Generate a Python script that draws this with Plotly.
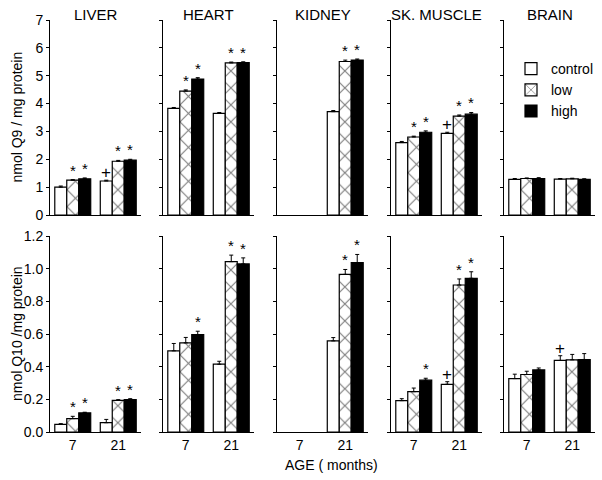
import plotly.graph_objects as go

tissues = ["LIVER", "HEART", "KIDNEY", "SK. MUSCLE", "BRAIN"]
ages = ["7", "21"]
groups = ["control", "low", "high"]

# Q9 (nmol / mg protein): per tissue [7 months, 21 months]
q9_control = [[1.00, 1.22], [3.83, 3.65], [None, 3.71], [2.60, 2.93], [1.28, 1.29]]
q9_low     = [[1.25, 1.93], [4.45, 5.46], [None, 5.51], [2.80, 3.55], [1.31, 1.30]]
q9_high    = [[1.30, 1.97], [4.88, 5.47], [None, 5.56], [2.97, 3.62], [1.31, 1.28]]
q9_err_control = [[0.04, 0.03], [0.03, 0.03], [None, 0.04], [0.04, 0.04], [0.03, 0.02]]
q9_err_low     = [[0.02, 0.03], [0.04, 0.03], [None, 0.05], [0.03, 0.04], [0.02, 0.02]]
q9_err_high    = [[0.03, 0.03], [0.05, 0.03], [None, 0.04], [0.05, 0.06], [0.03, 0.02]]
q9_marks_control = [["", "+"], ["", ""], ["", ""], ["", "+"], ["", ""]]
q9_marks_low     = [["*", "*"], ["*", "*"], ["", "*"], ["*", "*"], ["", ""]]
q9_marks_high    = [["*", "*"], ["*", "*"], ["", "*"], ["*", "*"], ["", ""]]

# Q10 (nmol / mg protein)
q10_control = [[0.047, 0.057], [0.497, 0.415], [None, 0.558], [0.192, 0.292], [0.327, 0.438]]
q10_low     = [[0.082, 0.194], [0.546, 1.043], [None, 0.965], [0.247, 0.900], [0.352, 0.442]]
q10_high    = [[0.117, 0.198], [0.597, 1.029], [None, 1.037], [0.317, 0.941], [0.380, 0.444]]
q10_err_control = [[0.004, 0.020], [0.045, 0.018], [None, 0.020], [0.012, 0.016], [0.027, 0.029]]
q10_err_low     = [[0.014, 0.004], [0.033, 0.040], [None, 0.030], [0.022, 0.037], [0.020, 0.033]]
q10_err_high    = [[0.004, 0.006], [0.020, 0.037], [None, 0.050], [0.012, 0.040], [0.012, 0.036]]
q10_marks_control = [["", ""], ["", ""], ["", ""], ["", "+"], ["", "+"]]
q10_marks_low     = [["*", "*"], ["", "*"], ["", "*"], ["", "*"], ["", ""]]
q10_marks_high    = [["*", "*"], ["*", "*"], ["", "*"], ["*", "*"], ["", ""]]

rows = [
    dict(vals=[q9_control, q9_low, q9_high], errs=[q9_err_control, q9_err_low, q9_err_high],
         marks=[q9_marks_control, q9_marks_low, q9_marks_high], rng=[0, 7], dtick=1, fmt="d",
         title="nmol Q9 / mg protein"),
    dict(vals=[q10_control, q10_low, q10_high], errs=[q10_err_control, q10_err_low, q10_err_high],
         marks=[q10_marks_control, q10_marks_low, q10_marks_high], rng=[0, 1.2], dtick=0.2, fmt=".1f",
         title="nmol Q10 /mg protein"),
]

W, H = 602, 480
FONT = "Arial, Liberation Sans, sans-serif"
panel_x = [(50, 141), (163, 254), (277, 368), (391, 482), (504, 595)]
row_y = [(20, 215), (236, 432)]

def px(x):
    return x / W

def py(y):
    return 1 - y / H

def bar_style(g):
    if g == 0:
        return dict(color="white", line=dict(color="black", width=1.2))
    if g == 1:
        return dict(color="white", line=dict(color="black", width=1.2),
                    pattern=dict(shape="x", fgcolor="black", bgcolor="white", size=12, solidity=0.18))
    return dict(color="black", line=dict(color="black", width=1.2))

fig = go.Figure()
annotations = []
layout = {}
for r, row in enumerate(rows):
    for p in range(5):
        n = r * 5 + p + 1
        xa = "x" if n == 1 else f"x{n}"
        ya = "y" if n == 1 else f"y{n}"
        for g in range(3):
            yv = row["vals"][g][p]
            ev = row["errs"][g][p]
            fig.add_trace(go.Bar(
                x=ages, y=yv, name=groups[g], legendgroup=groups[g], showlegend=(n == 1),
                marker=bar_style(g), xaxis=xa, yaxis=ya, offsetgroup=str(g),
                error_y=dict(type="data", array=ev, arrayminus=[0, 0], symmetric=False,
                             color="black", thickness=1, width=2),
                hoverinfo="x+y",
            ))
            for a in range(2):
                m = row["marks"][g][p][a]
                if m and yv[a] is not None:
                    annotations.append(dict(
                        x=a, y=yv[a] + ev[a], xref=xa, yref=ya, text=m, showarrow=False,
                        xanchor="center", xshift=(g - 1) * 12, yshift=-1 if m == "*" else -4,
                        yanchor="bottom",
                        font=dict(family=FONT, size=15 if m == "*" else 17, color="black")))
        x0, x1 = panel_x[p]
        y0, y1 = row_y[r]
        kx = "xaxis" if n == 1 else f"xaxis{n}"
        ky = "yaxis" if n == 1 else f"yaxis{n}"
        layout[kx] = dict(domain=[px(x0), px(x1)], anchor=ya, type="category",
                          categoryorder="array", categoryarray=ages, range=[-0.5, 1.5],
                          autorange=False, showline=True,
                          linecolor="black", linewidth=1, ticks="", showticklabels=(r == 1),
                          showgrid=False, zeroline=False,
                          tickfont=dict(family=FONT, size=14, color="black"), fixedrange=True)
        layout[ky] = dict(domain=[py(y1), py(y0)], anchor=xa, range=row["rng"],
                          autorange=False, tick0=0, dtick=row["dtick"], tickformat=row["fmt"],
                          ticks="outside", ticklen=3, tickcolor="black", showline=True,
                          linecolor="black", linewidth=1, showgrid=False, zeroline=False,
                          showticklabels=(p == 0), tickfont=dict(family=FONT, size=14, color="black"),
                          fixedrange=True)
        if r == 0:
            annotations.append(dict(x=px((x0 + x1) / 2), y=py(14), xref="paper", yref="paper",
                                    text=tissues[p], showarrow=False, xanchor="center",
                                    yanchor="middle",
                                    font=dict(family=FONT, size=15, color="black")))
    annotations.append(dict(x=px(17), y=py((row_y[r][0] + row_y[r][1]) / 2), xref="paper",
                            yref="paper", text=row["title"], textangle=-90, showarrow=False,
                            xanchor="center", yanchor="middle",
                            font=dict(family=FONT, size=14, color="black")))

annotations.append(dict(x=px(331), y=py(465), xref="paper", yref="paper", text="AGE ( months)",
                        showarrow=False, xanchor="center", yanchor="middle",
                        font=dict(family=FONT, size=14, color="black")))

fig.update_layout(
    width=W, height=H, margin=dict(l=0, r=0, t=0, b=0, autoexpand=False),
    paper_bgcolor="white", plot_bgcolor="white",
    barmode="group", bargap=0.21, bargroupgap=0,
    font=dict(family=FONT, size=14, color="black"),
    showlegend=True,
    legend=dict(x=px(511), y=py(53), xanchor="left", yanchor="top",
                bgcolor="rgba(0,0,0,0)", font=dict(family=FONT, size=14, color="black"),
                tracegroupgap=0, itemwidth=30),
    annotations=annotations,
    **layout,
)

fig.write_html("out.html", config={"displayModeBar": False},
               post_script="document.body.style.margin='0';document.body.style.overflow='hidden';")
